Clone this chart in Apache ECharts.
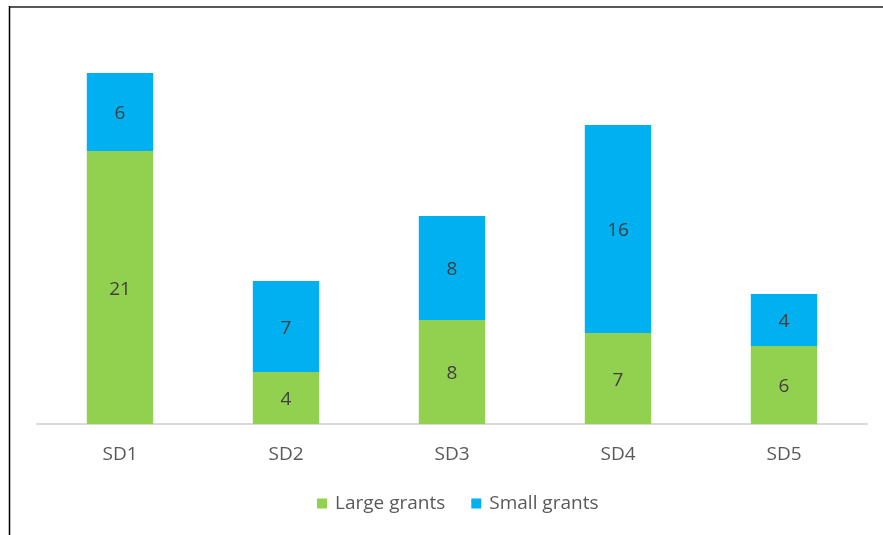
<!DOCTYPE html>
<html>
<head>
<meta charset="utf-8">
<script src="https://cdn.jsdelivr.net/npm/echarts@6/dist/echarts.min.js"></script>
<style>
html,body{margin:0;padding:0;background:#fff;}
#chart{width:883px;height:535px;}
</style>
</head>
<body>
<div id="chart"></div>
<script>
const categories = ['SD1', 'SD2', 'SD3', 'SD4', 'SD5'];
const largeGrants = [21, 4, 8, 7, 6];
const smallGrants = [6, 7, 8, 16, 4];
const seriesNames = ['Large grants', 'Small grants'];

const FONT = '"Open Sans", "Liberation Sans", sans-serif';
const chart = echarts.init(document.getElementById('chart'));
const labelStyle = {
  show: true,
  position: 'inside',
  offset: [0, 2],
  color: '#404040',
  fontSize: 19,
  fontFamily: FONT
};
chart.setOption({
  animation: false,
  backgroundColor: '#ffffff',
  textStyle: { fontFamily: FONT },
  graphic: [
    { type: 'line', shape: { x1: 9, y1: 7, x2: 883, y2: 7 }, style: { stroke: '#595959', lineWidth: 2 } },
    { type: 'line', shape: { x1: 9.5, y1: 6, x2: 9.5, y2: 535 }, style: { stroke: '#000000', lineWidth: 1.5 } }
  ],
  grid: { left: 37, right: 16, top: 34, bottom: 111, containLabel: false },
  legend: {
    data: seriesNames,
    bottom: 17,
    left: 312,
    itemWidth: 10,
    itemHeight: 10,
    itemGap: 26,
    icon: 'rect',
    textStyle: { color: '#595959', fontSize: 19, fontFamily: FONT, padding: [0, 0, 0, 3] }
  },
  xAxis: {
    type: 'category',
    data: categories,
    axisLine: { lineStyle: { color: '#d9d9d9', width: 2 } },
    axisTick: { show: false },
    axisLabel: { color: '#595959', fontSize: 19, fontFamily: FONT, margin: 21 }
  },
  yAxis: {
    type: 'value',
    min: 0,
    max: 30,
    show: false,
    splitLine: { show: false }
  },
  series: [
    {
      name: seriesNames[0],
      type: 'bar',
      stack: 'total',
      data: largeGrants,
      barWidth: '40%',
      itemStyle: { color: '#92d050' },
      label: labelStyle
    },
    {
      name: seriesNames[1],
      type: 'bar',
      stack: 'total',
      data: smallGrants,
      barWidth: '40%',
      itemStyle: { color: '#00b0f0' },
      label: labelStyle
    }
  ]
});
</script>
</body>
</html>
